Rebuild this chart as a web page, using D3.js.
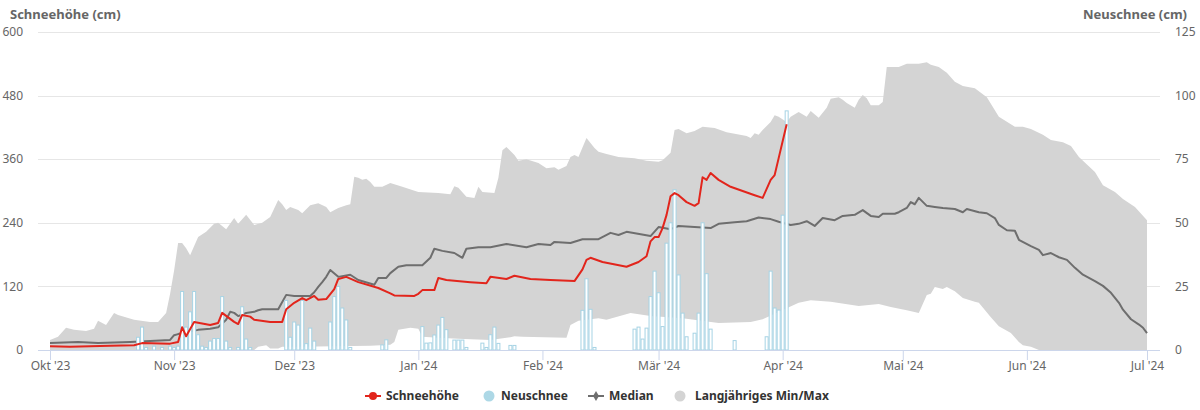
<!DOCTYPE html>
<html><head><meta charset="utf-8">
<script src="https://cdn.jsdelivr.net/npm/d3@7"></script>
<style>
body{margin:0;background:#fff;}
svg{display:block;font-family:"Noto Sans","Open Sans",sans-serif;}
</style>
</head><body>
<svg id="chart" width="1200" height="410"></svg>
<script>
// ---------- DATA ----------
const monthTicks = ["2023-10-01","2023-11-01","2023-12-01","2024-01-01","2024-02-01","2024-03-01","2024-04-01","2024-05-01","2024-06-01","2024-07-01"];
const monthLabels = ["Okt '23","Nov '23","Dez '23","Jan '24","Feb '24","Mär '24","Apr '24","Mai '24","Jun '24","Jul '24"];
const leftTicks = [0,120,240,360,480,600];
const rightTicks = [0,25,50,75,100,125];

// Schneehöhe (cm)
const schneehoehe = [
["2023-10-01",7],["2023-10-06",6],["2023-10-11",7],["2023-10-16",8],["2023-10-22",9],["2023-10-24",13],
["2023-10-31",12],["2023-11-02",15],["2023-11-03",43],["2023-11-04",26],["2023-11-06",53],["2023-11-10",47],
["2023-11-12",51],["2023-11-13",70],["2023-11-16",53],["2023-11-17",49],["2023-11-18",66],["2023-11-20",63],
["2023-11-21",57],["2023-11-25",53],["2023-11-28",53],["2023-11-29",77],["2023-12-01",89],["2023-12-03",98],
["2023-12-04",94],["2023-12-06",102],["2023-12-07",95],["2023-12-09",96],["2023-12-11",115],["2023-12-12",134],
["2023-12-14",138],["2023-12-17",128],["2023-12-22",117],["2023-12-25",107],["2023-12-26",103],["2023-12-31",102],
["2024-01-01",106],["2024-01-02",113],["2024-01-05",113],["2024-01-06",136],["2024-01-08",132],["2024-01-14",128],
["2024-01-18",126],["2024-01-19",138],["2024-01-23",134],["2024-01-25",140],["2024-01-29",134],["2024-02-03",132],
["2024-02-09",130],["2024-02-11",152],["2024-02-12",170],["2024-02-13",174],["2024-02-16",166],["2024-02-22",157],
["2024-02-25",166],["2024-02-27",177],["2024-02-28",205],["2024-02-29",213],["2024-03-01",213],["2024-03-02",230],
["2024-03-03",255],["2024-03-04",290],["2024-03-05",296],["2024-03-06",292],["2024-03-08",279],["2024-03-10",272],
["2024-03-11",277],["2024-03-12",326],["2024-03-13",321],["2024-03-14",334],["2024-03-16",321],["2024-03-19",308],
["2024-03-25",292],["2024-03-27",287],["2024-03-29",321],["2024-03-30",330],["2024-03-31",362],["2024-04-02",426]
];

// Median (cm)
const median = [
["2023-10-01",13],["2023-10-08",15],["2023-10-13",13],["2023-10-21",15],["2023-10-31",19],["2023-11-01",28],
["2023-11-02",30],["2023-11-07",38],["2023-11-10",40],["2023-11-12",43],["2023-11-14",57],["2023-11-15",72],
["2023-11-16",70],["2023-11-17",64],["2023-11-19",70],["2023-11-21",72],["2023-11-22",75],["2023-11-23",77],
["2023-11-27",77],["2023-11-29",104],["2023-12-01",102],["2023-12-05",102],["2023-12-06",109],["2023-12-07",119],
["2023-12-08",128],["2023-12-09",138],["2023-12-10",151],["2023-12-12",138],["2023-12-15",142],["2023-12-17",132],
["2023-12-21",123],["2023-12-22",136],["2023-12-24",136],["2023-12-25",145],["2023-12-27",157],["2023-12-29",160],
["2024-01-02",160],["2024-01-04",174],["2024-01-05",191],["2024-01-07",187],["2024-01-10",183],["2024-01-12",174],
["2024-01-13",191],["2024-01-16",194],["2024-01-19",194],["2024-01-23",200],["2024-01-28",194],["2024-01-31",200],
["2024-02-03",198],["2024-02-04",204],["2024-02-08",202],["2024-02-11",209],["2024-02-15",209],["2024-02-18",221],
["2024-02-20",217],["2024-02-22",223],["2024-02-28",215],["2024-03-01",232],["2024-03-04",228],["2024-03-06",234],
["2024-03-14",230],["2024-03-16",238],["2024-03-20",241],["2024-03-23",243],["2024-03-26",250],["2024-03-29",247],
["2024-03-31",242],["2024-04-03",236],["2024-04-05",238],["2024-04-07",243],["2024-04-09",234],["2024-04-11",249],
["2024-04-14",245],["2024-04-16",253],["2024-04-19",255],["2024-04-21",264],["2024-04-23",253],["2024-04-25",251],
["2024-04-26",257],["2024-04-29",257],["2024-04-30",260],["2024-05-02",268],["2024-05-03",279],["2024-05-04",275],
["2024-05-05",287],["2024-05-07",272],["2024-05-09",270],["2024-05-11",268],["2024-05-14",266],["2024-05-16",260],
["2024-05-17",266],["2024-05-20",260],["2024-05-22",258],["2024-05-24",249],["2024-05-25",236],["2024-05-27",226],
["2024-05-29",225],["2024-05-30",208],["2024-06-02",196],["2024-06-04",189],["2024-06-05",179],["2024-06-07",183],
["2024-06-09",175],["2024-06-11",170],["2024-06-13",155],["2024-06-15",142],["2024-06-18",130],["2024-06-20",121],
["2024-06-22",108],["2024-06-24",89],["2024-06-25",76],["2024-06-27",58],["2024-06-29",48],["2024-06-30",42],
["2024-07-01",32]
];

// Langjähriges Maximum (cm)
const maxSnow = [
["2023-10-01",19],["2023-10-03",25],["2023-10-05",42],["2023-10-07",38],["2023-10-10",36],["2023-10-12",40],
["2023-10-13",55],["2023-10-15",47],["2023-10-17",70],["2023-10-18",66],["2023-10-22",57],["2023-10-26",53],
["2023-10-28",53],["2023-10-30",70],["2023-10-31",106],["2023-11-01",150],["2023-11-02",202],["2023-11-03",202],
["2023-11-04",192],["2023-11-05",179],["2023-11-07",213],["2023-11-09",223],["2023-11-11",238],["2023-11-12",240],
["2023-11-14",228],["2023-11-16",249],["2023-11-17",238],["2023-11-19",255],["2023-11-21",236],["2023-11-23",240],
["2023-11-25",251],["2023-11-27",283],["2023-11-28",275],["2023-11-29",264],["2023-11-30",270],["2023-12-02",264],
["2023-12-03",258],["2023-12-05",273],["2023-12-07",277],["2023-12-09",270],["2023-12-10",260],["2023-12-12",268],
["2023-12-14",273],["2023-12-15",275],["2023-12-16",327],["2023-12-17",325],["2023-12-18",321],["2023-12-19",323],
["2023-12-20",317],["2023-12-21",308],["2023-12-23",308],["2023-12-25",315],["2023-12-28",308],["2024-01-01",298],
["2024-01-06",296],["2024-01-09",294],["2024-01-10",309],["2024-01-11",306],["2024-01-13",289],["2024-01-15",287],
["2024-01-16",308],["2024-01-17",298],["2024-01-20",296],["2024-01-21",325],["2024-01-22",377],["2024-01-23",383],
["2024-01-25",368],["2024-01-26",357],["2024-01-28",360],["2024-01-31",353],["2024-02-02",343],["2024-02-04",345],
["2024-02-05",340],["2024-02-07",347],["2024-02-08",364],["2024-02-09",368],["2024-02-10",364],["2024-02-12",400],
["2024-02-14",381],["2024-02-15",374],["2024-02-17",370],["2024-02-20",364],["2024-02-24",362],["2024-02-27",357],
["2024-03-01",355],["2024-03-02",358],["2024-03-04",372],["2024-03-05",415],["2024-03-06",417],["2024-03-08",409],
["2024-03-10",413],["2024-03-12",421],["2024-03-15",419],["2024-03-18",411],["2024-03-20",408],["2024-03-23",404],
["2024-03-24",400],["2024-03-25",409],["2024-03-26",406],["2024-03-27",415],["2024-03-29",430],["2024-03-30",443],
["2024-03-31",440],["2024-04-02",430],["2024-04-03",440],["2024-04-05",449],["2024-04-07",440],["2024-04-08",451],
["2024-04-10",438],["2024-04-12",457],["2024-04-13",474],["2024-04-15",477],["2024-04-16",472],["2024-04-17",466],
["2024-04-19",457],["2024-04-20",472],["2024-04-21",481],["2024-04-22",475],["2024-04-23",462],["2024-04-25",462],
["2024-04-26",468],["2024-04-27",534],["2024-04-30",534],["2024-05-02",540],["2024-05-05",540],["2024-05-07",543],
["2024-05-08",538],["2024-05-10",534],["2024-05-12",523],["2024-05-14",506],["2024-05-16",498],["2024-05-19",494],
["2024-05-22",477],["2024-05-25",440],["2024-05-29",421],["2024-05-31",421],["2024-06-02",417],["2024-06-05",406],
["2024-06-07",396],["2024-06-10",392],["2024-06-12",385],["2024-06-14",364],["2024-06-18",336],["2024-06-20",311],
["2024-06-23",298],["2024-06-25",285],["2024-06-28",270],["2024-07-01",245]
];

// Langjähriges Minimum (cm)
const minSnow = [
["2023-10-01",0],["2023-11-21",0],["2023-11-22",6],["2023-11-24",9],["2023-11-25",3],["2023-11-27",3],
["2023-11-28",6],["2023-12-02",6],["2023-12-20",8],["2023-12-25",10],["2023-12-26",15],["2023-12-27",38],
["2023-12-30",42],["2024-01-01",40],["2024-01-02",25],["2024-01-06",23],["2024-01-11",21],["2024-01-19",19],
["2024-01-24",24],["2024-01-25",26],["2024-01-27",25],["2024-02-07",23],["2024-02-08",47],["2024-02-10",55],
["2024-02-15",60],["2024-02-17",57],["2024-02-23",70],["2024-02-28",64],["2024-03-07",60],["2024-03-16",51],
["2024-03-24",53],["2024-03-27",58],["2024-04-05",89],["2024-04-08",94],["2024-04-13",91],["2024-04-20",83],
["2024-04-25",87],["2024-04-28",81],["2024-05-02",75],["2024-05-05",70],["2024-05-07",104],["2024-05-08",106],
["2024-05-09",119],["2024-05-11",115],["2024-05-12",119],["2024-05-14",111],["2024-05-16",98],["2024-05-19",91],
["2024-05-20",89],["2024-05-23",62],["2024-05-25",45],["2024-05-28",32],["2024-05-30",15],["2024-05-31",9],
["2024-06-02",6],["2024-06-04",0],["2024-07-01",0]
];

// Neuschnee (cm)
const neuschnee = [
["2023-10-23",5],["2023-10-24",9],["2023-10-25",1],["2023-10-27",1.5],["2023-10-29",1],["2023-10-31",1.5],
["2023-11-01",1],["2023-11-02",1.5],["2023-11-03",23],["2023-11-04",9],["2023-11-05",15],["2023-11-06",23],
["2023-11-07",6],["2023-11-08",1.5],["2023-11-09",1],["2023-11-10",3.5],["2023-11-11",4.5],["2023-11-12",4.5],
["2023-11-13",21],["2023-11-14",3.5],["2023-11-15",1],["2023-11-17",1],["2023-11-18",17],["2023-11-19",4.3],
["2023-11-20",1],["2023-11-29",19.5],["2023-11-30",5],["2023-12-01",11],["2023-12-02",9.8],["2023-12-03",19.5],
["2023-12-04",2.5],["2023-12-05",8.6],["2023-12-06",3.5],["2023-12-10",11],["2023-12-11",21],["2023-12-12",25],
["2023-12-13",16.5],["2023-12-14",11.8],["2023-12-15",1],["2023-12-23",2],["2023-12-24",4],["2024-01-02",9.2],
["2024-01-03",2.7],["2024-01-04",2.8],["2024-01-05",5.9],["2024-01-06",9.8],["2024-01-07",12.8],["2024-01-08",8],
["2024-01-10",3.9],["2024-01-11",3.9],["2024-01-12",3.9],["2024-01-13",1],["2024-01-17",2.7],["2024-01-18",1],
["2024-01-19",6],["2024-01-20",9],["2024-01-21",2.6],["2024-01-24",1.8],["2024-01-25",1.8],["2024-02-11",15.6],
["2024-02-12",28],["2024-02-13",16],["2024-02-14",1],["2024-02-24",8.2],["2024-02-25",9],["2024-02-26",4.3],
["2024-02-27",8.6],["2024-02-28",21],["2024-02-29",31],["2024-03-01",22.5],["2024-03-02",9.2],["2024-03-03",42],
["2024-03-04",50],["2024-03-05",63],["2024-03-06",29.5],["2024-03-07",14.5],["2024-03-08",5.2],["2024-03-10",6.6],
["2024-03-11",14.5],["2024-03-12",50],["2024-03-13",30],["2024-03-14",8.2],["2024-03-20",3.7],["2024-03-28",5.2],
["2024-03-29",31],["2024-03-30",16.5],["2024-03-31",15.7],["2024-04-01",53],["2024-04-02",94]
];

const legendItems = ["Schneehöhe","Neuschnee","Median","Langjähriges Min/Max"];

// ---------- CHART ----------
const parse = d3.utcParse("%Y-%m-%d");
const svg = d3.select("#chart");
const plot = {left:38, right:1160, top:32, bottom:350};
const C = {red:"#e2251c", median:"#6e6e6e", band:"#d4d4d4", barStroke:"#a6d3e4", barFill:"#ffffff",
  grid:"#e6e6e6", axis:"#ccd6eb", text:"#666666", legend:"#333333"};

const x = d3.scaleUtc().domain([parse("2023-10-01"), parse("2024-07-01")]).range([50, 1147]);
const yL = d3.scaleLinear().domain([0,600]).range([plot.bottom, plot.top]);
const yR = d3.scaleLinear().domain([0,125]).range([plot.bottom, plot.top]);

// gridlines
svg.append("g").selectAll("line").data(leftTicks.filter(t=>t>0)).join("line")
  .attr("x1",plot.left).attr("x2",plot.right)
  .attr("y1",d=>Math.round(yL(d))+0.5).attr("y2",d=>Math.round(yL(d))+0.5)
  .attr("stroke",C.grid).attr("stroke-width",1);

// band (min/max)
const pts = maxSnow.map(d=>[x(parse(d[0])), yL(d[1])])
  .concat(minSnow.slice().reverse().map(d=>[x(parse(d[0])), yL(d[1])]));
svg.append("path").attr("d", d3.line()(pts)+"Z").attr("fill",C.band).attr("stroke","none");

// median
const lineL = d3.line().x(d=>x(parse(d[0]))).y(d=>yL(d[1]));
svg.append("path").attr("d", lineL(median)).attr("fill","none")
  .attr("stroke",C.median).attr("stroke-width",2).attr("stroke-linejoin","round");

// bars
svg.append("g").selectAll("rect").data(neuschnee).join("rect")
  .attr("x",d=>x(parse(d[0]))-1.5).attr("width",3)
  .attr("y",d=>yR(d[1])).attr("height",d=>yR(0)-yR(d[1]))
  .attr("fill",C.barFill).attr("stroke",C.barStroke).attr("stroke-width",1);

// red
svg.append("path").attr("d", lineL(schneehoehe)).attr("fill","none")
  .attr("stroke",C.red).attr("stroke-width",2).attr("stroke-linejoin","round");

// x axis
const xAxis = d3.axisBottom(x).tickValues(monthTicks.map(parse))
  .tickFormat((d,i)=>monthLabels[i]).tickSize(10).tickPadding(1).tickSizeOuter(0);
const gx = svg.append("g").attr("transform",`translate(0,${plot.bottom})`).call(xAxis);
gx.select(".domain").remove();
gx.selectAll(".tick line").attr("stroke",C.axis);
gx.selectAll(".tick text").attr("fill",C.text).style("font-size","12px").attr("font-family","'Noto Sans',sans-serif");
svg.append("line").attr("x1",plot.left).attr("x2",plot.right)
  .attr("y1",plot.bottom+0.5).attr("y2",plot.bottom+0.5).attr("stroke",C.axis);

// y labels
svg.append("g").selectAll("text").data(leftTicks).join("text")
  .attr("x",23).attr("y",d=>yL(d)).attr("dy","0.35em").attr("text-anchor","end")
  .attr("fill",C.text).style("font-size","12px").text(d=>d);
svg.append("g").selectAll("text").data(rightTicks).join("text")
  .attr("x",1175).attr("y",d=>yR(d)).attr("dy","0.35em").attr("text-anchor","start")
  .attr("fill",C.text).style("font-size","12px").text(d=>d);

// axis titles
svg.append("text").attr("x",10).attr("y",19).attr("fill",C.text)
  .style("font-size","13px").style("font-weight","bold").text("Schneehöhe (cm)");
svg.append("text").attr("x",1187).attr("y",19).attr("text-anchor","end").attr("fill",C.text)
  .style("font-size","13px").style("font-weight","bold").text("Neuschnee (cm)");

// legend
const ly = 396;
const lg = svg.append("g");
const legendX = [386, 501, 609, 695];
lg.append("line").attr("x1",365).attr("x2",381).attr("y1",ly).attr("y2",ly).attr("stroke",C.red).attr("stroke-width",2);
lg.append("circle").attr("cx",373).attr("cy",ly).attr("r",4).attr("fill",C.red);
lg.append("circle").attr("cx",489).attr("cy",ly).attr("r",5.5).attr("fill","#add8e6");
lg.append("line").attr("x1",588).attr("x2",604).attr("y1",ly).attr("y2",ly).attr("stroke",C.median).attr("stroke-width",2);
lg.append("path").attr("d",d3.symbol(d3.symbolDiamond,30)()).attr("transform",`translate(596,${ly})`).attr("fill",C.median);
lg.append("circle").attr("cx",680).attr("cy",ly).attr("r",5.5).attr("fill",C.band);
lg.selectAll("text.l").data(legendItems).join("text").attr("class","l")
  .attr("x",(d,i)=>legendX[i]).attr("y",ly).attr("dy","0.35em")
  .attr("fill",C.legend).style("font-size","12px").style("font-weight","bold").text(d=>d);
</script>
</body></html>
